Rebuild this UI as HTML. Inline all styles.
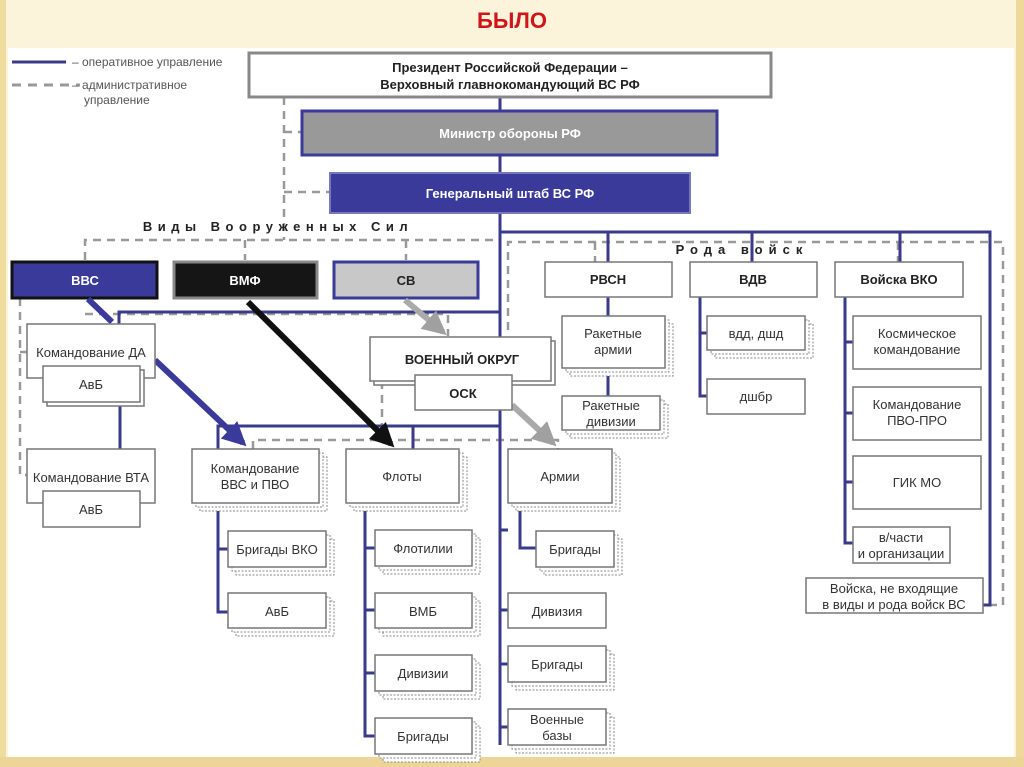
<!DOCTYPE html>
<html><head><meta charset="utf-8"><style>
html,body{margin:0;padding:0;background:#fbf3da;}
svg{display:block}
text{font-family:"Liberation Sans",sans-serif;font-stretch:condensed}
</style></head><body>
<svg width="1024" height="767" viewBox="0 0 1024 767" xmlns="http://www.w3.org/2000/svg">
<defs>
<marker id="ab" viewBox="0 0 10 10" refX="8" refY="5" markerWidth="4" markerHeight="4" orient="auto"><path d="M0,0L10,5L0,10z" fill="#3a3a9a"/></marker>
<marker id="ak" viewBox="0 0 10 10" refX="8" refY="5" markerWidth="4" markerHeight="4" orient="auto"><path d="M0,0L10,5L0,10z" fill="#111"/></marker>
<marker id="ag" viewBox="0 0 10 10" refX="8" refY="5" markerWidth="4" markerHeight="4" orient="auto"><path d="M0,0L10,5L0,10z" fill="#a0a0a0"/></marker>
</defs>
<rect x="0" y="0" width="1024" height="767" fill="#fbf3da"/>
<rect x="0" y="0" width="6" height="767" fill="#f0dc9c"/>
<rect x="1016" y="0" width="8" height="767" fill="#efd99a"/>
<rect x="0" y="757" width="1024" height="10" fill="#ecd596"/>
<text x="512" y="28" text-anchor="middle" font-size="22" font-weight="bold" fill="#d0141a">БЫЛО</text>
<rect x="8" y="48" width="1006" height="709" fill="#fff"/>

<g font-size="12" fill="#555">
<line x1="12" y1="62" x2="66" y2="62" stroke="#3a3a8a" stroke-width="3"/>
<text x="72" y="66">– оперативное управление</text>
<line x1="12" y1="85" x2="80" y2="85" stroke="#999" stroke-width="3" stroke-dasharray="9,7"/>
<text x="72" y="89">– административное</text>
<text x="84" y="104">управление</text>
</g>

<g fill="none" stroke="#999" stroke-width="2.5" stroke-dasharray="8,6">
<path d="M284 97V240M284 132H302M284 192H330"/>
<path d="M85 260V240H500M245 240V260M406 240V260"/>
<path d="M508 330V242H1003V605H985M752 242V262M898 242V262M595 242V262"/>
<path d="M20 298V475H27M20 352H27"/>
<path d="M85 314H448V336"/>
<path d="M382 381V440"/>
<path d="M253 449V440H558V449"/>
</g>

<g fill="none" stroke="#3a3a8a" stroke-width="3">
<path d="M500 97V745"/>
<path d="M500 232H990V605H983M608 232V262M752 232V262M900 232V262"/>
<path d="M119 325V312H500"/>
<path d="M120 402V449"/>
<path d="M218 449V426H500M413 426V449"/>
<path d="M218 503V612H228M218 549H228"/>
<path d="M365 503V736H375M365 548H375M365 610H375M365 673H375"/>
<path d="M520 503V548H536"/>
<path d="M500 530H508M500 610H508M500 664H508M500 727H508"/>
<path d="M608 297V316M608 368V396"/>
<path d="M700 297V396H707M700 333H707"/>
<path d="M845 297V543H853M845 342H853M845 413H853M845 482H853"/>
</g>

<g fill="#fff" stroke="#777" stroke-width="1.5" font-size="14" text-anchor="middle">
<rect x="249" y="53" width="522" height="44" stroke="#888" stroke-width="3"/>
<text x="510" y="72" font-weight="bold" fill="#222" stroke="none" font-size="13">Президент Российской Федерации –</text>
<text x="510" y="89" font-weight="bold" fill="#222" stroke="none" font-size="13">Верховный главнокомандующий ВС РФ</text>
<rect x="302" y="111" width="415" height="44" fill="#999" stroke="#3a3a9a" stroke-width="3"/>
<text x="510" y="138" font-weight="bold" fill="#fff" stroke="none" font-size="13">Министр обороны РФ</text>
<rect x="330" y="173" width="360" height="40" fill="#3a3a9a" stroke="#7777bb" stroke-width="2"/>
<text x="510" y="198" font-weight="bold" fill="#fff" stroke="none" font-size="13">Генеральный штаб ВС РФ</text>
</g>
<text x="278" y="231" text-anchor="middle" font-size="13" font-weight="bold" letter-spacing="5.5" fill="#222">Виды Вооруженных Сил</text>
<text x="742" y="254" text-anchor="middle" font-size="13" font-weight="bold" letter-spacing="6" fill="#222">Рода войск</text>

<g font-size="13" font-weight="bold" text-anchor="middle">
<rect x="12" y="262" width="145" height="36" fill="#3a3a9a" stroke="#111" stroke-width="3"/>
<text x="85" y="285" fill="#fff">ВВС</text>
<rect x="174" y="262" width="143" height="36" fill="#151515" stroke="#888" stroke-width="3"/>
<text x="245" y="285" fill="#fff">ВМФ</text>
<rect x="334" y="262" width="144" height="36" fill="#c8c8c8" stroke="#3a3a9a" stroke-width="3"/>
<text x="406" y="285" fill="#222">СВ</text>
</g>

<g fill="none" stroke-linecap="butt">
<line x1="88" y1="299" x2="112" y2="322" stroke="#3a3a9a" stroke-width="6"/>
<line x1="155" y1="360" x2="243" y2="443" stroke="#3a3a9a" stroke-width="6" marker-end="url(#ab)"/>
<line x1="248" y1="302" x2="391" y2="444" stroke="#111" stroke-width="6" marker-end="url(#ak)"/>
<line x1="405" y1="300" x2="443" y2="332" stroke="#aaa" stroke-width="6" marker-end="url(#ag)"/>
<line x1="512" y1="405" x2="553" y2="443" stroke="#aaa" stroke-width="6" marker-end="url(#ag)"/>
</g>

<g id="boxes" font-size="13" text-anchor="middle" fill="#333">
<g fill="#fff" stroke="#888" stroke-width="1" stroke-dasharray="2,1.5">
<rect x="200" y="457" width="127" height="54"/><rect x="196" y="453" width="127" height="54"/>
<rect x="354" y="457" width="113" height="54"/><rect x="350" y="453" width="113" height="54"/>
<rect x="516" y="457" width="104" height="54"/><rect x="512" y="453" width="104" height="54"/>
<rect x="236" y="539" width="98" height="36"/><rect x="232" y="535" width="98" height="36"/>
<rect x="236" y="601" width="98" height="35"/><rect x="232" y="597" width="98" height="35"/>
<rect x="383" y="538" width="97" height="36"/><rect x="379" y="534" width="97" height="36"/>
<rect x="383" y="601" width="97" height="35"/><rect x="379" y="597" width="97" height="35"/>
<rect x="383" y="663" width="97" height="36"/><rect x="379" y="659" width="97" height="36"/>
<rect x="383" y="726" width="97" height="36"/><rect x="379" y="722" width="97" height="36"/>
<rect x="544" y="539" width="78" height="36"/><rect x="540" y="535" width="78" height="36"/>
<rect x="516" y="654" width="98" height="36"/><rect x="512" y="650" width="98" height="36"/>
<rect x="516" y="717" width="98" height="36"/><rect x="512" y="713" width="98" height="36"/>
<rect x="570" y="324" width="103" height="52"/><rect x="566" y="320" width="103" height="52"/>
<rect x="570" y="404" width="98" height="34"/><rect x="566" y="400" width="98" height="34"/>
<rect x="715" y="324" width="98" height="34"/><rect x="711" y="320" width="98" height="34"/>
</g>
<g fill="#fff" stroke="#777" stroke-width="1.5">
<rect x="27" y="324" width="128" height="54"/>
<rect x="47" y="370" width="97" height="36"/>
<rect x="43" y="366" width="97" height="36"/>
<rect x="27" y="449" width="128" height="54"/>
<rect x="43" y="491" width="97" height="36"/>
<rect x="374" y="341" width="181" height="44"/>
<rect x="370" y="337" width="181" height="44"/>
<rect x="415" y="375" width="97" height="35"/>
<rect x="192" y="449" width="127" height="54"/>
<rect x="346" y="449" width="113" height="54"/>
<rect x="508" y="449" width="104" height="54"/>
<rect x="228" y="531" width="98" height="36"/>
<rect x="228" y="593" width="98" height="35"/>
<rect x="375" y="530" width="97" height="36"/>
<rect x="375" y="593" width="97" height="35"/>
<rect x="375" y="655" width="97" height="36"/>
<rect x="375" y="718" width="97" height="36"/>
<rect x="536" y="531" width="78" height="36"/>
<rect x="508" y="593" width="98" height="35"/>
<rect x="508" y="646" width="98" height="36"/>
<rect x="508" y="709" width="98" height="36"/>
<rect x="545" y="262" width="127" height="35"/>
<rect x="690" y="262" width="127" height="35"/>
<rect x="835" y="262" width="128" height="35"/>
<rect x="562" y="316" width="103" height="52"/>
<rect x="562" y="396" width="98" height="34"/>
<rect x="707" y="316" width="98" height="34"/>
<rect x="707" y="379" width="98" height="35"/>
<rect x="853" y="316" width="128" height="53"/>
<rect x="853" y="387" width="128" height="53"/>
<rect x="853" y="456" width="128" height="53"/>
<rect x="853" y="527" width="97" height="36"/>
<rect x="806" y="578" width="177" height="35"/>
</g>
<text x="91" y="357">Командование ДА</text>
<text x="91" y="389">АвБ</text>
<text x="91" y="482">Командование ВТА</text>
<text x="91" y="514">АвБ</text>
<text x="462" y="364" font-weight="bold" fill="#222">ВОЕННЫЙ ОКРУГ</text>
<text x="463" y="398" font-weight="bold" fill="#222">ОСК</text>
<text x="255" y="473">Командование</text>
<text x="255" y="489">ВВС и ПВО</text>
<text x="402" y="481">Флоты</text>
<text x="560" y="481">Армии</text>
<text x="277" y="554">Бригады ВКО</text>
<text x="277" y="616">АвБ</text>
<text x="423" y="553">Флотилии</text>
<text x="423" y="616">ВМБ</text>
<text x="423" y="678">Дивизии</text>
<text x="423" y="741">Бригады</text>
<text x="575" y="554">Бригады</text>
<text x="557" y="616">Дивизия</text>
<text x="557" y="669">Бригады</text>
<text x="557" y="724">Военные</text>
<text x="557" y="740">базы</text>
<g font-weight="bold" fill="#222">
<text x="608" y="284">РВСН</text>
<text x="753" y="284">ВДВ</text>
<text x="899" y="284">Войска ВКО</text>
</g>
<text x="613" y="338">Ракетные</text>
<text x="613" y="354">армии</text>
<text x="611" y="410">Ракетные</text>
<text x="611" y="426">дивизии</text>
<text x="756" y="338">вдд, дшд</text>
<text x="756" y="401">дшбр</text>
<text x="917" y="338">Космическое</text>
<text x="917" y="354">командование</text>
<text x="917" y="409">Командование</text>
<text x="917" y="425">ПВО-ПРО</text>
<text x="917" y="487">ГИК МО</text>
<text x="901" y="542">в/части</text>
<text x="901" y="558">и организации</text>
<text x="894" y="593">Войска, не входящие</text>
<text x="894" y="609">в виды и рода войск ВС</text>
</g>
</svg>
</body></html>
